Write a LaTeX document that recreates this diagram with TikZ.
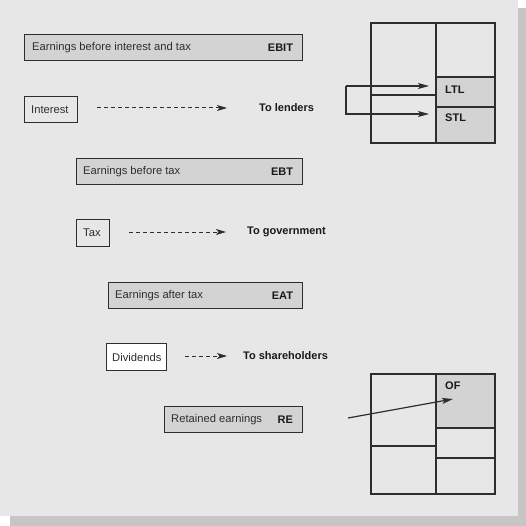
\documentclass[tikz,border=0pt]{standalone}
\usepackage{fontspec}
\setmainfont{Liberation Sans}
\usetikzlibrary{arrows.meta}
\definecolor{panel}{HTML}{E7E7E7}
\definecolor{shadowc}{HTML}{C6C6C6}
\definecolor{cellc}{HTML}{D3D3D3}
\definecolor{ink}{HTML}{2E2E2E}
\tikzset{
  gbox/.style={draw=ink, line width=1.2pt, fill=cellc, rectangle, anchor=north west, inner sep=0pt},
  pbox/.style={draw=ink, line width=1.2pt, fill=panel, rectangle, anchor=north west, inner sep=0pt},
  wbox/.style={draw=ink, line width=1.2pt, fill=white, rectangle, anchor=north west, inner sep=0pt},
  lbl/.style={inner sep=0pt, font=\fontsize{11.2pt}{13pt}\selectfont, text=ink},
  blbl/.style={inner sep=0pt, font=\fontsize{11pt}{13pt}\selectfont\bfseries, text=black!90},
  dasharr/.style={draw=ink, line width=1pt, dash pattern=on 4pt off 3pt, -{Stealth[length=10pt,width=6pt,inset=2.5pt]}},
  solarr/.style={draw=ink, line width=1.2pt, -{Stealth[length=11pt,width=6pt,inset=2.5pt]}},
  grid/.style={draw=ink, line width=1.2pt}
}
\begin{document}
\begin{tikzpicture}[x=1pt,y=-1pt]
\useasboundingbox (0,0) rectangle (526,526);
\fill[white] (0,0) rectangle (526,526);
\fill[shadowc] (10,8) rectangle (526,526);
\fill[panel] (0,0) rectangle (518,516);

% income boxes
\node[gbox, minimum width=278pt, minimum height=26pt] (ebit) at (24,34) {};
\node[lbl, anchor=west] (ebitT) at ([xshift=8pt]ebit.west) {Earnings before interest and tax};
\node[blbl, anchor=east] (ebitA) at ([xshift=-10pt]ebit.east) {EBIT};

\node[pbox, minimum width=53pt, minimum height=26pt] (int) at (24,96) {};
\node[lbl, anchor=west] (intT) at ([xshift=7pt]int.west) {Interest};
\node[blbl, anchor=west] (lend) at (259,108) {To lenders};
\draw[dasharr, shorten <=19pt, shorten >=32pt] (int.east |- lend.west) -- (lend.west);

\node[gbox, minimum width=226pt, minimum height=26pt] (ebt) at (76,158) {};
\node[lbl, anchor=west] (ebtT) at ([xshift=7pt]ebt.west) {Earnings before tax};
\node[blbl, anchor=east] (ebtA) at ([xshift=-10pt]ebt.east) {EBT};

\node[pbox, minimum width=33pt, minimum height=27pt] (tax) at (76,219) {};
\node[lbl, anchor=west] (taxT) at ([xshift=7pt]tax.west) {Tax};
\node[blbl, anchor=west] (gov) at (247,232) {To government};
\draw[dasharr, shorten <=19pt, shorten >=21pt] (tax.east |- gov.west) -- (gov.west);

\node[gbox, minimum width=194pt, minimum height=26pt] (eat) at (108,282) {};
\node[lbl, anchor=west] (eatT) at ([xshift=7pt]eat.west) {Earnings after tax};
\node[blbl, anchor=east] (eatA) at ([xshift=-10pt]eat.east) {EAT};

\node[wbox, minimum width=60pt, minimum height=27pt] (div) at (106,343) {};
\node[lbl, anchor=west] (divT) at ([xshift=6pt]div.west) {Dividends};
\node[blbl, anchor=west] (share) at (243,356) {To shareholders};
\draw[dasharr, shorten <=18pt, shorten >=16pt] (div.east |- share.west) -- (share.west);

\node[gbox, minimum width=138pt, minimum height=26pt] (re) at (164,406) {};
\node[lbl, anchor=west] (reT) at ([xshift=7pt]re.west) {Retained earnings};
\node[blbl, anchor=east] (reA) at ([xshift=-10pt]re.east) {RE};

% top balance sheet
\fill[cellc] (436,77) rectangle (495,143);
\draw[grid] (371,23) rectangle (495,143);
\draw[grid] (436,23) -- (436,143);
\draw[grid] (436,77) -- (495,77);
\draw[grid] (436,107) -- (495,107);
\draw[grid] (371,95) -- (436,95);
\node[blbl, anchor=west] (ltl) at (445,90) {LTL};
\node[blbl, anchor=west] (stl) at (445,118) {STL};
\coordinate (bt) at (346,86);
\coordinate (bb) at (346,114);
\draw[solarr, shorten >=16pt] (bt) -- (ltl.west |- bt);
\draw[solarr, shorten >=16pt] (bt) -- (bb) -- (stl.west |- bb);

% bottom balance sheet
\fill[cellc] (436,374) rectangle (495,428);
\draw[grid] (371,374) rectangle (495,494);
\draw[grid] (436,374) -- (436,494);
\draw[grid] (436,428) -- (495,428);
\draw[grid] (436,458) -- (495,458);
\draw[grid] (371,446) -- (436,446);
\node[blbl, anchor=west] (of) at (445,386) {OF};
\coordinate (ofs) at (348,418);
\coordinate (oft) at (453,399);
\draw[solarr] (ofs) -- (oft);
\end{tikzpicture}
\end{document}
